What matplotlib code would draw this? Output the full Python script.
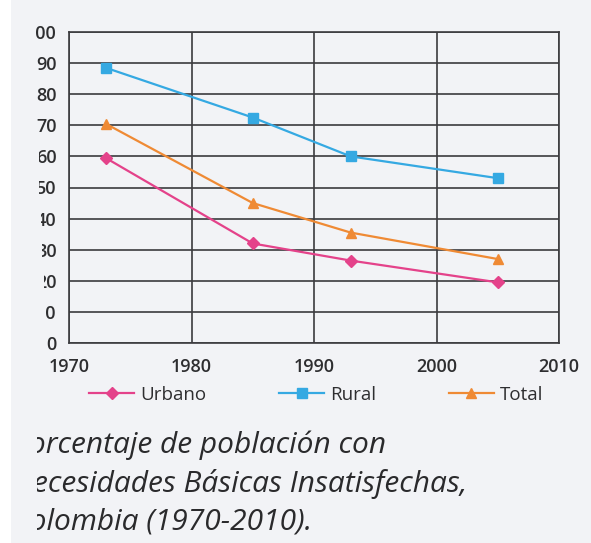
import numpy as np
import matplotlib.pyplot as plt
from matplotlib.transforms import Bbox, TransformedBbox
from matplotlib.patches import Rectangle

# datos (NBI, Colombia)
years = [1973, 1985, 1993, 2005]
urbano = [59.5, 32.0, 26.5, 19.5]
rural = [88.5, 72.5, 60.0, 53.0]
total = [70.5, 45.0, 35.5, 27.0]

xticks = [1970, 1980, 1990, 2000, 2010]
yticks = np.arange(0, 101, 10)
caption = 'Porcentaje de población con\nNecesidades Básicas Insatisfechas,\nColombia (1970-2010).'

page = '#f2f3f6'
grid_c = '#3b3b3e'
txt_c = '#2e2e30'

plt.rcParams['font.family'] = ['Open Sans', 'DejaVu Sans']

W, H = 591, 543
fig = plt.figure(figsize=(W / 100, H / 100), dpi=100, facecolor=page)
# franja blanca a la izquierda del escaneo
fig.patches.append(Rectangle((0, 0), 11 / W, 1, transform=fig.transFigure,
                             facecolor='white', edgecolor='none', zorder=-5))

ax = fig.add_axes([69 / W, 1 - 343 / H, 490 / W, 311 / H])
ax.set_facecolor(page)

ax.plot(years, urbano, color='#e4428a', lw=1.6, marker='D', ms=6, label='Urbano', zorder=3)
ax.plot(years, rural, color='#35a9e2', lw=1.6, marker='s', ms=7.5, label='Rural', zorder=3)
ax.plot(years, total, color='#ef8a34', lw=1.6, marker='^', ms=7, label='Total', zorder=3)

ax.set_xlim(1970, 2010)
ax.set_ylim(0, 100)
ax.set_xticks(xticks)
ax.set_yticks(yticks)
ax.grid(color=grid_c, lw=1.2)
for s in ax.spines.values():
    s.set_color(grid_c)
    s.set_linewidth(1.2)
ax.tick_params(length=0, labelsize=13, labelcolor=txt_c)
ax.tick_params(axis='y', pad=9)
ax.tick_params(axis='x', pad=11)


def px_clip(x0):
    # todo lo que queda a la izquierda de x0 (px) no se ve en el escaneo
    return TransformedBbox(Bbox([[x0 / W, 0], [1, 1]]), fig.transFigure)


# el borde del corte no es recto: entra mas abajo
cut = {0: 46, 10: 46, 20: 44, 30: 42, 40: 41, 50: 38.5, 60: 39, 70: 35, 80: 35, 90: 35, 100: 36}
for v, lab in zip(yticks, ax.get_yticklabels()):
    lab.set_fontweight('semibold')
    lab.set_clip_box(px_clip(cut[int(v)]))
for lab in ax.get_xticklabels():
    lab.set_fontweight('semibold')

fig.legend(loc='center', bbox_to_anchor=(0.535, 1 - 395 / H), ncol=3, frameon=False,
           fontsize=13.5, handlelength=2.4, handletextpad=0.3, columnspacing=3.9,
           labelcolor=txt_c)

cap = fig.text(12 / W, 1 - 431 / H, caption, ha='left', va='top', fontsize=21.5,
               style='italic', color='#2a2a2c', linespacing=1.38)
cap.set_clip_box(px_clip(37))

fig.savefig('out.png', dpi=100, facecolor=page)
